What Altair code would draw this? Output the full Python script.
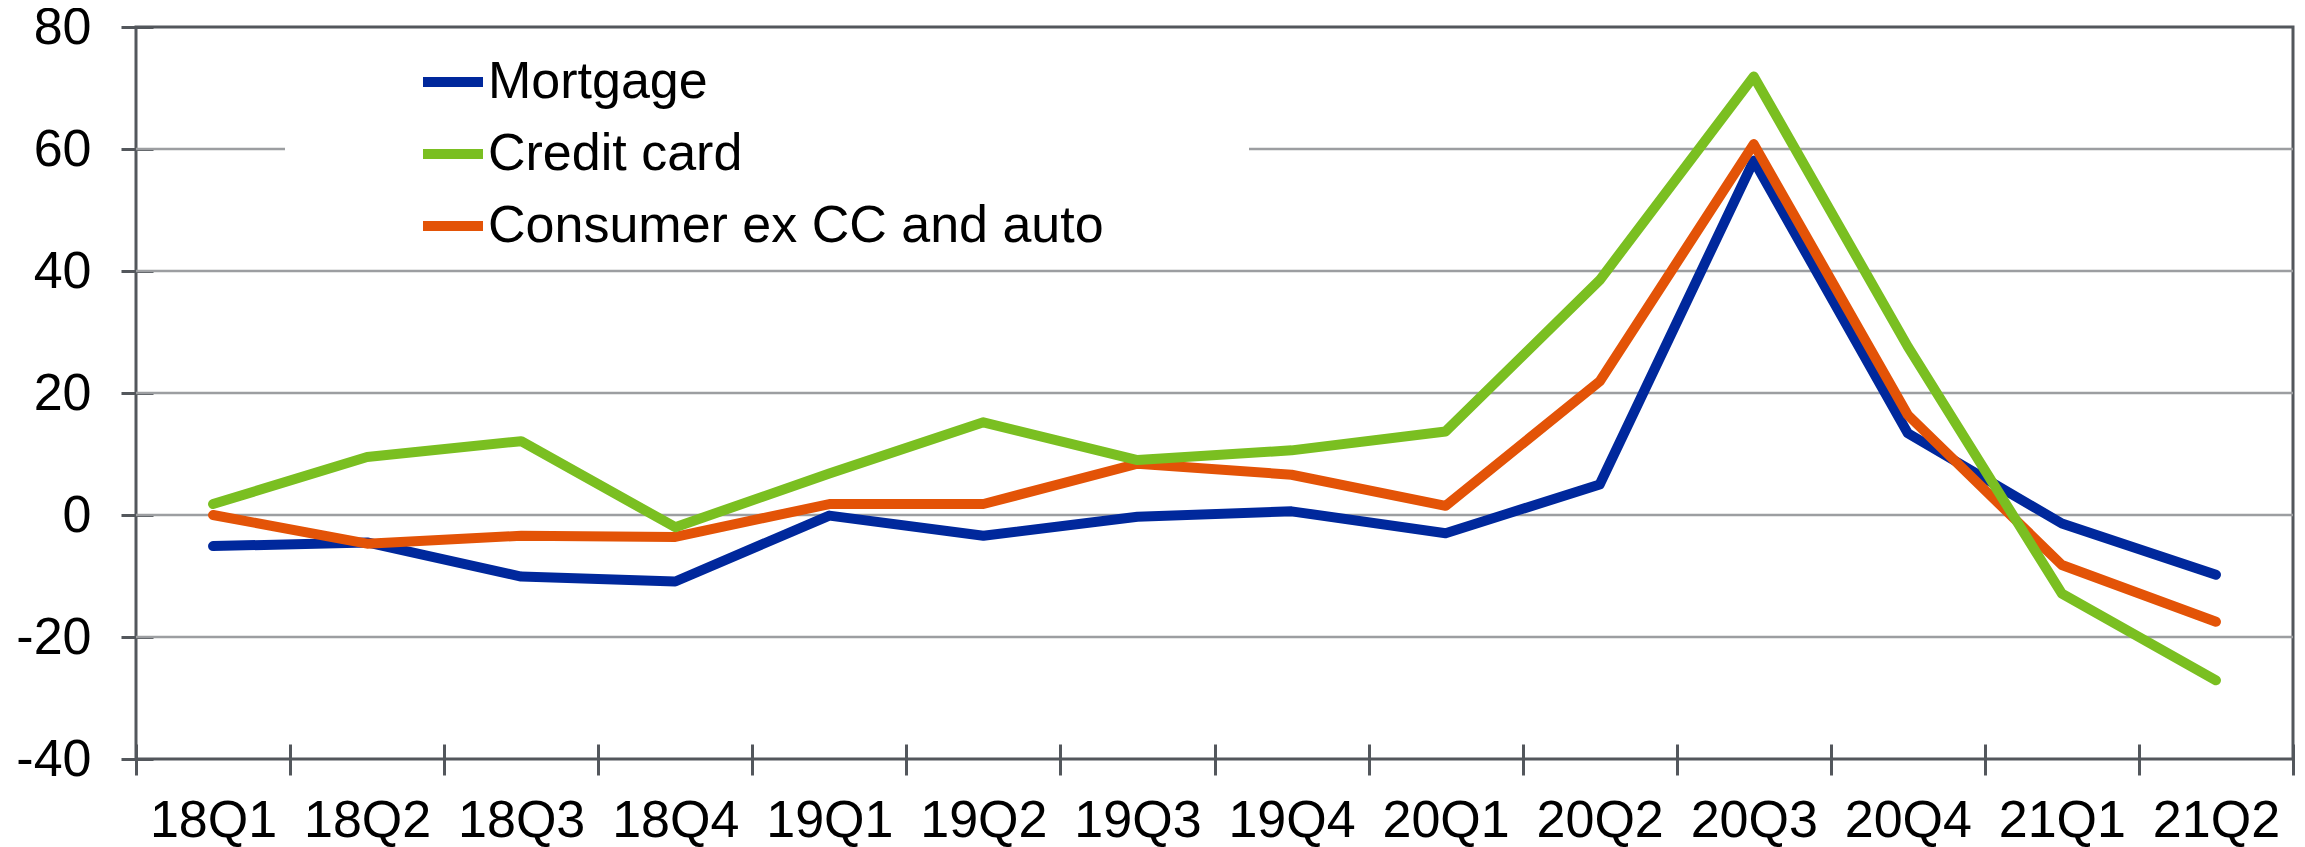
import altair as alt
import pandas as pd

quarters = ["18Q1", "18Q2", "18Q3", "18Q4", "19Q1", "19Q2", "19Q3",
            "19Q4", "20Q1", "20Q2", "20Q3", "20Q4", "21Q1", "21Q2"]
mortgage = [-5.1, -4.5, -10.1, -10.9, -0.1, -3.4, -0.3, 0.6, -3.0, 5.0, 58.1, 13.4, -1.4, -9.8]
credit_card = [1.8, 9.5, 12.1, -2.0, 6.8, 15.2, 9.0, 10.6, 13.7, 38.5, 71.9, 27.6, -12.9, -27.1]
consumer = [0.0, -4.7, -3.4, -3.6, 1.8, 1.8, 8.4, 6.6, 1.5, 21.9, 60.8, 16.4, -8.2, -17.5]
series_names = ["Mortgage", "Credit card", "Consumer ex CC and auto"]
series_colors = ["#00289C", "#7ABF21", "#E35307"]
y_ticks = [-40, -20, 0, 20, 40, 60, 80]
grid_values = [-20, 0, 20, 40, 60]

FONT = "Liberation Sans"
DARK = "#53575c"
GRID = "#9c9ea1"

rows = []
for name, vals in zip(series_names, [mortgage, credit_card, consumer]):
    for q, v in zip(quarters, vals):
        rows.append({"quarter": q, "value": v, "series": name})
df = pd.DataFrame(rows)
grid_df = pd.DataFrame({"value": grid_values})

yscale = alt.Scale(domain=[-40, 80], nice=False, zero=False)
yaxis = alt.Axis(title=None, values=y_ticks, domain=False, grid=False, offset=-17,
                 tickSize=32, tickWidth=3, tickColor=DARK, labelFontSize=52,
                 labelFont=FONT, labelColor="black", labelPadding=30,
                 labelExpr="'' + datum.value")

xenc = alt.X(
    "quarter:N", sort=quarters, bandPosition=0.5,
    scale=alt.Scale(type="band", domain=quarters, paddingInner=0, paddingOuter=0),
    axis=alt.Axis(title=None, domain=False, grid=False, offset=-15, tickSize=31,
                  tickWidth=3, tickColor=DARK, tickBand="extent", labelFontSize=52,
                  labelFont=FONT, labelColor="black", labelPadding=20, labelAngle=0),
)
yenc = alt.Y("value:Q", scale=yscale, axis=yaxis)
color = alt.Color(
    "series:N",
    scale=alt.Scale(domain=series_names, range=series_colors),
    legend=alt.Legend(title="   ", titleOrient="right", titleFontSize=52,
                      titlePadding=145, titleColor="white",
                      orient="none", legendX=149, legendY=20,
                      symbolType="stroke", symbolSize=3600, symbolStrokeWidth=10,
                      labelFontSize=52, labelFont=FONT, labelColor="black",
                      symbolOffset=133, labelOffset=0, rowPadding=11, padding=0,
                      fillColor="white", labelLimit=2000),
)

grid = alt.Chart(grid_df).mark_rule(color=GRID, strokeWidth=2.7).encode(
    y=alt.Y("value:Q", scale=yscale, axis=yaxis)
)


def line(name):
    return alt.Chart(df).transform_filter(alt.datum.series == name).mark_line(
        strokeWidth=10, strokeCap="round", strokeJoin="round"
    ).encode(x=xenc, y=yenc, color=color)


chart = alt.layer(
    grid, line("Mortgage"), line("Consumer ex CC and auto"), line("Credit card")
).properties(
    width=2157, height=732,
    autosize=alt.AutoSizeParams(type="none"),
    padding={"left": 128, "top": 19, "right": 4, "bottom": 88},
    background="white",
).configure_view(stroke=DARK, strokeWidth=3)

chart.save("out.html", embed_options={"renderer": "svg", "actions": False})
